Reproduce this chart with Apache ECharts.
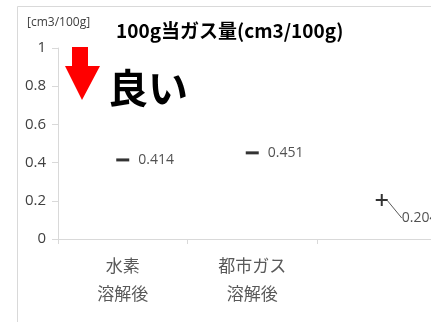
<!DOCTYPE html>
<html>
<head>
<meta charset="utf-8">
<script src="https://cdn.jsdelivr.net/npm/echarts@6/dist/echarts.min.js"></script>
<style>
html,body{margin:0;padding:0;background:#fff;}
#c{width:431px;height:322px;}
</style>
</head>
<body>
<div id="c"></div>
<script>
var categories = ['水素\n溶解後', '都市ガス\n溶解後', ''];
var values = [0.414, 0.451, 0.204];
var valueLabels = ['0.414', '0.451', '0.204'];
var yTicks = [0, 0.2, 0.4, 0.6, 0.8, 1];
var titleText = '100g当ガス量(cm3/100g)';
var unitText = '[cm3/100g]';
var noteText = '良い';

var FONT = '"Noto Sans CJK JP", "Open Sans", sans-serif';
var NUMFONT = '"Open Sans", "Noto Sans CJK JP", sans-serif';
var dashPath = 'path://M0,0 L12,0 L12,2 L0,2 Z';
var plusPath = 'path://M5,0 L7,0 L7,5 L12,5 L12,7 L7,7 L7,12 L5,12 L5,7 L0,7 L0,5 L5,5 Z';
var symbols = [dashPath, dashPath, plusPath];
var symbolSizes = [[13, 3], [13, 3], [12, 12]];

var chart = echarts.init(document.getElementById('c'), null, {renderer: 'canvas'});
chart.setOption({
  animation: false,
  backgroundColor: '#fff',
  grid: {left: 58, width: 388.5, top: 48, height: 191, containLabel: false, outerBoundsMode: 'none'},
  xAxis: {
    type: 'category',
    data: categories,
    boundaryGap: true,
    axisLine: {show: true, lineStyle: {color: '#d9d9d9', width: 1}},
    axisTick: {show: true, interval: 0, length: 5, lineStyle: {color: '#d9d9d9'}},
    axisLabel: {interval: 0, margin: 13, fontFamily: FONT, fontSize: 17, color: '#595959', lineHeight: 28},
    splitLine: {show: false}
  },
  yAxis: {
    type: 'value',
    min: 0, max: 1, interval: 0.2,
    axisLine: {show: true, lineStyle: {color: '#d9d9d9', width: 1}},
    axisTick: {show: true, length: 6, lineStyle: {color: '#d9d9d9'}},
    axisLabel: {margin: 12, fontFamily: NUMFONT, fontSize: 15, color: '#404040',
      formatter: function (v) { return String(Math.round(v * 10) / 10); }},
    splitLine: {show: false}
  },
  series: [{
    type: 'scatter',
    data: values.map(function (v, i) {
      var d = {value: v, symbol: symbols[i], symbolSize: symbolSizes[i]};
      if (i === 2) {
        d.labelLine = {show: true, lineStyle: {color: '#595959', width: 1}};
      } else {
        d.labelLine = {show: false};
      }
      return d;
    }),
    itemStyle: {color: '#000'},
    label: {
      show: true,
      position: 'right',
      distance: 9,
      fontFamily: NUMFONT,
      fontSize: 14,
      color: '#262626',
      formatter: function (p) { return valueLabels[p.dataIndex]; }
    },
    labelLayout: function (p) {
      if (p.dataIndex === 2) { return {dx: 5, dy: 18}; }
      return {};
    }
  }],
  graphic: [
    {type: 'line', shape: {x1: 17.5, y1: 6.5, x2: 17.5, y2: 322}, style: {stroke: '#d9d9d9', lineWidth: 1}, z: 0},
    {type: 'line', shape: {x1: 17.5, y1: 6.5, x2: 431, y2: 6.5}, style: {stroke: '#d9d9d9', lineWidth: 1}, z: 0},
    {type: 'text', left: 27, top: 17, style: {text: unitText, font: '12px ' + NUMFONT, fill: '#404040'}},
    {type: 'text', left: 116, top: 21, style: {text: titleText, font: 'bold 19px ' + FONT, fill: '#000'}},
    {type: 'polygon', shape: {points: [[72, 47], [88, 47], [88, 66], [100, 66], [82, 100], [65, 66], [72, 66]]}, style: {fill: '#ff0000'}},
    {type: 'text', left: 108, top: 68, style: {text: noteText, font: 'bold 40px ' + FONT, fill: '#000'}}
  ]
});
</script>
</body>
</html>
